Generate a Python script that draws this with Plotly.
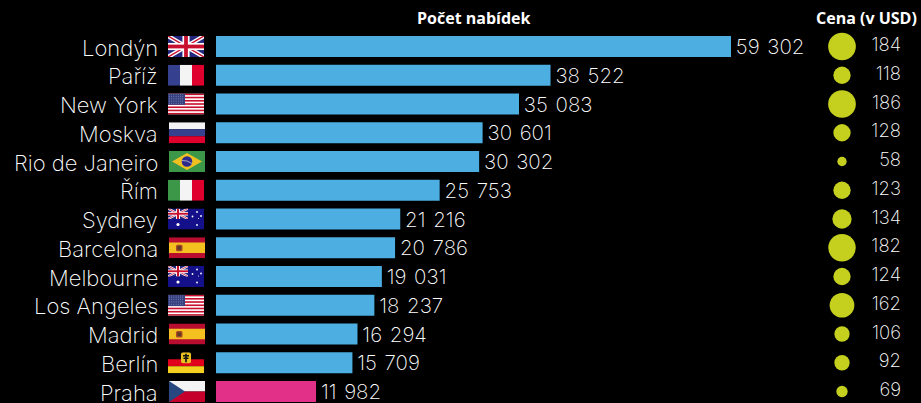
import base64
import plotly.graph_objects as go

cities = ["Londýn","Paříž","New York","Moskva","Rio de Janeiro","Řím","Sydney","Barcelona","Melbourne","Los Angeles","Madrid","Berlín","Praha"]
offers = [59302,38522,34890,30700,30302,25753,21216,20620,19100,18237,16294,15709,11520]
offer_labels = ["59 302","38 522","35 083","30 601","30 302","25 753","21 216","20 786","19 031","18 237","16 294","15 709","11 982"]
prices = [184,118,186,128,58,123,134,182,124,162,106,92,69]
circle_diameters = [27.7,17.3,27.7,17.3,9.3,17.3,19.3,27.5,17.3,24.7,15.3,15.3,11.3]
flag_codes = ["gb","fr","us","ru","br","it","au","es","au","us","es","de","cz"]
highlight = "Praha"

W, H = 921, 403
BLUE, PINK, LIME = "#4DAEE2", "#E23088", "#C4D01D"
FONT = "Inter"
PITCH = 28.75
TOP = 46.5 - PITCH / 2

def svg(body):
    s = f'<svg xmlns="http://www.w3.org/2000/svg" viewBox="0 0 36 21" preserveAspectRatio="none" width="144" height="84">{body}</svg>'
    return "data:image/svg+xml;base64," + base64.b64encode(s.encode()).decode()

def r(x, y, w, h, c):
    return f'<rect x="{x}" y="{y}" width="{w}" height="{h}" fill="{c}"/>'

def union(w=36, h=21):
    return (r(0,0,w,h,"#22267F")
        + f'<path d="M0 0L{w} {h}M{w} 0L0 {h}" stroke="#fff" stroke-width="{h*0.2}"/>'
        + f'<path d="M0 0L{w} {h}M{w} 0L0 {h}" stroke="#C8102E" stroke-width="{h*0.07}"/>'
        + r(w/2-h*0.17,0,h*0.34,h,"#fff") + r(0,h/2-h*0.17,w,h*0.34,"#fff")
        + r(w/2-h*0.09,0,h*0.18,h,"#C8102E") + r(0,h/2-h*0.09,w,h*0.18,"#C8102E"))

def star(x, y, s, c="#fff"):
    return f'<circle cx="{x}" cy="{y}" r="{s}" fill="{c}"/>'

us = r(0,0,36,21,"#fff") + "".join(r(0, i*21/13, 36, 21/13, "#C8102E") for i in range(0,13,2)) + r(0,0,17,11.3,"#34407F")
us += "".join(star(1.5+j*2.2, 1.3+i*1.7, 0.45, "#9AA3C8") for i in range(6) for j in range(7))
es_shield = '<rect x="7" y="7.5" width="6.5" height="6.5" rx="1.5" fill="#A5462A"/><rect x="8.5" y="9" width="3.5" height="3.5" fill="#5A3A20"/>'
FLAGS = {
 "gb": union(),
 "fr": r(0,0,12,21,"#35408F")+r(12,0,12,21,"#F4F4F4")+r(24,0,12,21,"#E0002D"),
 "it": r(0,0,12,21,"#3D9748")+r(12,0,12,21,"#F4F4F4")+r(24,0,12,21,"#E0002D"),
 "ru": r(0,0,36,7,"#F4F4F4")+r(0,7,36,7,"#35408F")+r(0,14,36,7,"#E0002D"),
 "us": us,
 "br": r(0,0,36,21,"#3D9748")+'<path d="M3 10.5L18 2L33 10.5L18 19Z" fill="#F0C020"/><circle cx="18" cy="10.5" r="5.3" fill="#2E2A8C"/><path d="M13 9.5Q18 9 23 12.5" stroke="#ddd" stroke-width="0.7" fill="none"/>',
 "au": r(0,0,36,21,"#14108A")+f'<svg x="0" y="0" width="20" height="10.5" viewBox="0 0 36 21" preserveAspectRatio="none">{union()}</svg>'
       + star(10,16,1.6)+star(29,16.5,0.9)+star(29,3.5,0.9)+star(24.5,8,0.9)+star(33,7.5,0.9)+star(30.5,10,0.5),
 "es": r(0,0,36,21,"#B80D2E")+r(0,5.25,36,10.5,"#F4C020")+es_shield,
 "de": r(0,0,36,7,"#000")+r(0,7,36,7,"#E0001B")+r(0,14,36,7,"#F4D020")+'<rect x="13" y="0" width="10" height="11" rx="2" fill="#E8C020"/><path d="M18 1.5V10M15 3.5H21M15.5 6H20.5" stroke="#111" stroke-width="1.6"/>',
 "cz": r(0,0,36,10.5,"#F4F4F4")+r(0,10.5,36,10.5,"#C4002B")+'<path d="M0 0L16 10.5L0 21Z" fill="#26477F"/>',
}
SHIFTED = {"ru","br","es","cz"}

def px(x):
    return x / W

y_pos = list(range(len(cities)))
bar_colors = [PINK if c == highlight else BLUE for c in cities]
shown_labels = ["\u200a" + s.replace(" ", "\u00a0\u200a") for s in offer_labels]

fig = go.Figure()
fig.add_trace(go.Bar(
    x=offers, y=y_pos, orientation="h", width=21/PITCH, marker=dict(color=bar_colors, line_width=0),
    text=shown_labels, textposition="outside", cliponaxis=False, constraintext="none",
    textfont=dict(family=FONT, size=20.5, color="#FFFFFF", weight=200), hoverinfo="skip", xaxis="x", yaxis="y"))
fig.add_trace(go.Scatter(
    x=[842-820]*len(prices), y=y_pos, mode="markers", cliponaxis=False,
    marker=dict(color=LIME, size=circle_diameters, sizemode="diameter", line_width=0, opacity=1),
    hoverinfo="skip", xaxis="x2", yaxis="y"))
fig.add_trace(go.Scatter(
    x=[901-820]*len(prices), y=y_pos, mode="text", cliponaxis=False,
    text=[str(p) for p in prices], textposition="middle left",
    textfont=dict(family=FONT, size=18.5, color="#FFFFFF", weight=200), hoverinfo="skip", xaxis="x2", yaxis="y"))

images = []
for i, code in enumerate(flag_codes):
    images.append(dict(source=svg(FLAGS[code]), xref="paper", yref="y", x=px(169 if code in SHIFTED else 168),
                       y=i, sizex=px(36), sizey=21/PITCH, xanchor="left", yanchor="middle",
                       sizing="stretch", layer="above"))

city_annotations = [
    dict(text=c, xref="paper", yref="y", x=px(159.5), y=i, showarrow=False, xanchor="right", yanchor="middle",
         yshift=-1, font=dict(family=FONT, size=22, color="#FFFFFF", weight=200))
    for i, c in enumerate(cities)
]

fig.update_layout(
    width=W, height=H, margin=dict(l=0, r=0, t=0, b=0, pad=0, autoexpand=False),
    paper_bgcolor="#000", plot_bgcolor="#000", showlegend=False, images=images,
    xaxis=dict(domain=[px(216), px(820)], range=[0, 604/(515/59302)], visible=False, fixedrange=True),
    xaxis2=dict(domain=[px(820), 1], range=[0, W-820], visible=False, anchor="y", fixedrange=True),
    yaxis=dict(range=[(H-46.5)/PITCH, -0.5], showticklabels=False, tickvals=[],
               showgrid=False, zeroline=False, showline=False, ticks="", fixedrange=True,
               domain=[0, 1-TOP/H]),
    annotations=city_annotations + [
        dict(text="<b>Počet nabídek</b>", xref="paper", yref="paper", x=px(473.5), y=1-18/H, showarrow=False,
             xanchor="center", yanchor="middle", font=dict(family="Open Sans", size=16, color="#fff")),
        dict(text="<b>Cena (v USD)</b>", xref="paper", yref="paper", x=px(866.5), y=1-18/H, showarrow=False,
             xanchor="center", yanchor="middle", font=dict(family="Open Sans", size=16, color="#fff")),
    ],
)
fig.write_html("out.html", config=dict(displayModeBar=False), post_script="document.body.style.margin='0';")
